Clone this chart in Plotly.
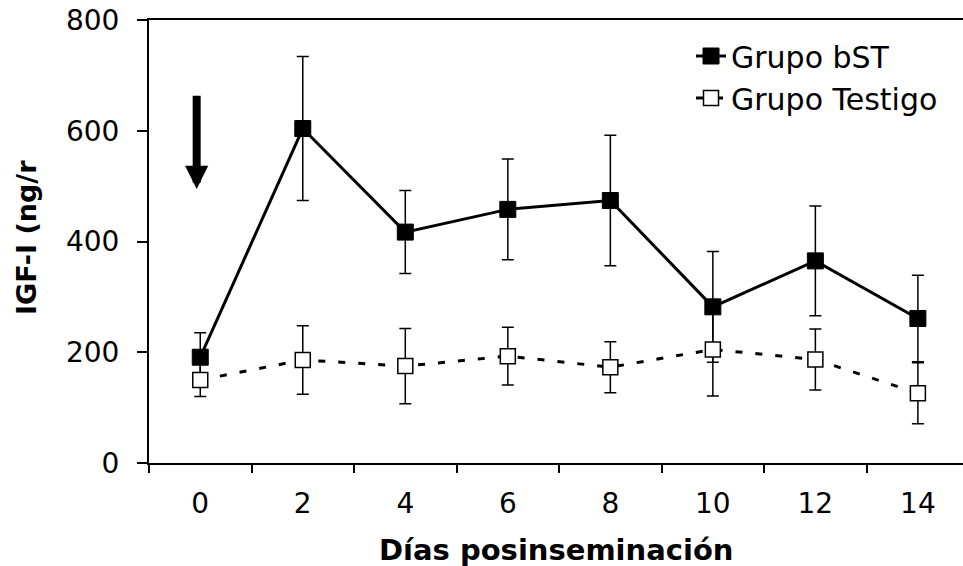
import plotly.graph_objects as go

# ---- data ----
days = ["0", "2", "4", "6", "8", "10", "12", "14"]
bst_mean = [191, 604, 417, 458, 474, 282, 365, 261]
bst_err = [44, 130, 75, 91, 118, 100, 99, 78]
testigo_mean = [150, 186, 175, 193, 173, 205, 187, 126]
testigo_err = [30, 62, 68, 52, 46, 84, 55, 55]
y_ticks = [0, 200, 400, 600, 800]

FONT = "DejaVu Sans"

fig = go.Figure()

fig.add_trace(go.Scatter(
    x=days, y=bst_mean, name="Grupo bST", mode="lines+markers",
    line=dict(color="black", width=3),
    marker=dict(symbol="square", size=16, color="black",
                line=dict(color="black", width=1)),
    error_y=dict(type="data", array=bst_err, visible=True,
                 color="black", thickness=1.5, width=6),
))

fig.add_trace(go.Scatter(
    x=days, y=testigo_mean, name="Grupo Testigo", mode="lines+markers",
    line=dict(color="black", width=3, dash="7px,13px"),
    marker=dict(symbol="square", size=15, color="white",
                line=dict(color="black", width=1.5)),
    error_y=dict(type="data", array=testigo_err, visible=True,
                 color="black", thickness=1.5, width=6),
))

# arrow (injection marker)
fig.add_annotation(
    x=-0.035, y=495, xref="x", yref="y",
    ax=-0.035, ay=666, axref="x", ayref="y",
    text="", showarrow=True, arrowhead=2, arrowwidth=8,
    arrowsize=0.58, arrowcolor="black", standoff=0,
)

# axis titles as annotations
fig.add_annotation(
    text="IGF-I (ng/r", xref="paper", yref="paper",
    x=(26.5 - 149) / 814, y=(463 - 237.5) / 443,
    xanchor="center", yanchor="middle", textangle=-90, showarrow=False,
    font=dict(family=FONT, size=27, color="black", weight="bold"),
)
fig.add_annotation(
    text="Días posinseminación", xref="paper", yref="paper",
    x=(556 - 149) / 814, y=(463 - 550) / 443,
    xanchor="center", yanchor="middle", showarrow=False,
    font=dict(family=FONT, size=29, color="black", weight="bold"),
)

fig.update_layout(
    width=963, height=566,
    margin=dict(l=149, r=0, t=20, b=103),
    plot_bgcolor="white", paper_bgcolor="white",
    font=dict(family=FONT, size=28, color="black"),
    showlegend=True,
    legend=dict(
        x=(691 - 149) / 814, y=(463 - 30) / 443,
        xanchor="left", yanchor="top",
        bgcolor="rgba(0,0,0,0)", borderwidth=0,
        font=dict(family=FONT, size=30, color="black"),
        tracegroupgap=0,
    ),
    xaxis=dict(
        type="category", range=[-0.5, 7.44],
        showline=True, linecolor="black", linewidth=2, mirror=True,
        ticks="outside", ticklen=8, tickwidth=1.5, tickcolor="black",
        tickson="boundaries", showgrid=False, zeroline=False,
        ticklabelstandoff=14,
        tickfont=dict(family=FONT, size=28, color="black"),
    ),
    yaxis=dict(
        range=[0, 800], tickvals=y_ticks,
        showline=True, linecolor="black", linewidth=2, mirror=False,
        ticks="outside", ticklen=10, tickwidth=1.5, tickcolor="black",
        showgrid=False, zeroline=False,
        ticklabelstandoff=12,
        tickfont=dict(family=FONT, size=28, color="black"),
    ),
)

fig.write_html(
    "out.html",
    config={"displayModeBar": False},
    post_script="document.body.style.margin='0px';document.body.style.overflow='hidden';",
)
